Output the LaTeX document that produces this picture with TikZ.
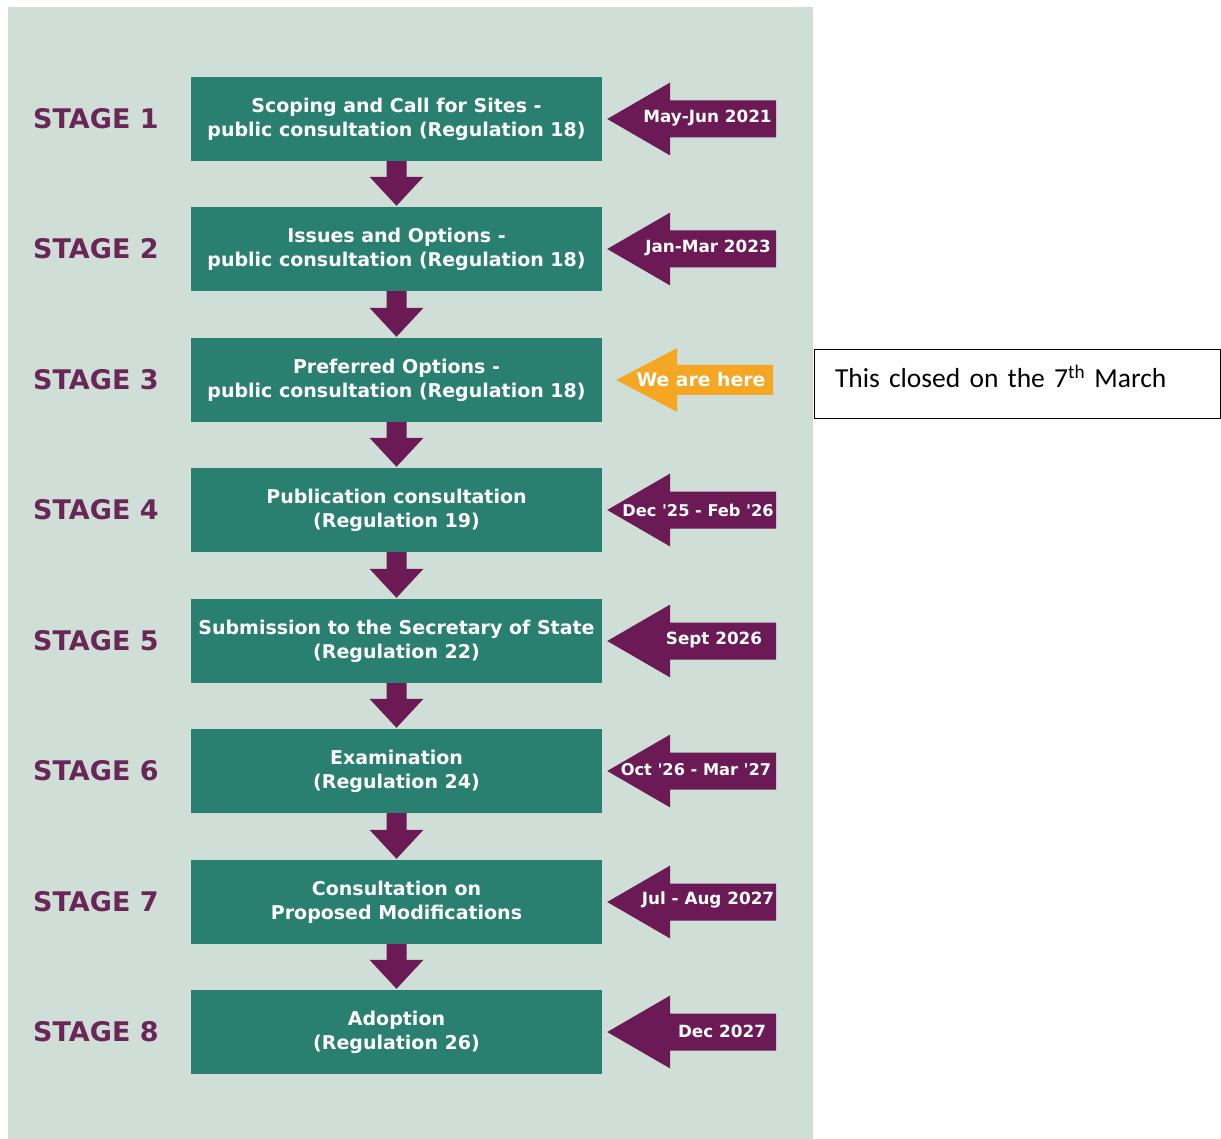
\documentclass[tikz,border=0pt]{standalone}
\usepackage{fontspec}
\setmainfont{DejaVu Sans}
\newfontfamily\notefont{Carlito}
\usetikzlibrary{calc}

\definecolor{panelbg}{HTML}{CFDFD8}
\definecolor{boxgreen}{HTML}{2A8070}
\definecolor{plum}{HTML}{6B1A55}
\definecolor{stagepurple}{HTML}{6A2656}
\definecolor{hereorange}{HTML}{F5A623}

\begin{document}
\begin{tikzpicture}[x=1pt,y=1pt,yscale=-1,xscale=1,
    stagebox/.style={fill=boxgreen, minimum width=411, minimum height=84, inner sep=0, text=white, align=center, font=\bfseries\fontsize{19}{24}\selectfont},
    stagelabel/.style={anchor=west, inner sep=0, text=stagepurple, font=\bfseries\fontsize{27}{32}\selectfont},
    datetext/.style={inner sep=0, text=white, font=\bfseries\fontsize{16.8}{19}\selectfont},
    notebox/.style={draw=black, line width=1.5, fill=white, text width=365, inner xsep=20.5, minimum height=69, text depth=15, align=left, font=\notefont\fontsize{27.5}{32}\selectfont}]
        \useasboundingbox (0,0) rectangle (1221,1139);
        % panel
        \fill[panelbg] (8,7) rectangle (813,1139);

        % Stage boxes
        \node[stagebox] (s1) at (396.5,119) {Scoping and Call for Sites -\\public consultation (Regulation 18)};
        \node[stagebox] (s2) at (396.5,249) {Issues and Options -\\public consultation (Regulation 18)};
        \node[stagebox] (s3) at (396.5,380) {Preferred Options -\\public consultation (Regulation 18)};
        \node[stagebox] (s4) at (396.5,510) {Publication consultation\\(Regulation 19)};
        \node[stagebox] (s5) at (396.5,641) {Submission to the Secretary of State\\(Regulation 22)};
        \node[stagebox] (s6) at (396.5,771) {Examination\\(Regulation 24)};
        \node[stagebox] (s7) at (396.5,902) {Consultation on\\Proposed Modifications};
        \node[stagebox] (s8) at (396.5,1032) {Adoption\\(Regulation 26)};

        % Stage labels
        \node[stagelabel] (l1) at (33,119) {STAGE 1};
        \node[stagelabel] (l2) at (33,249) {STAGE 2};
        \node[stagelabel] (l3) at (33,380) {STAGE 3};
        \node[stagelabel] (l4) at (33,510) {STAGE 4};
        \node[stagelabel] (l5) at (33,641) {STAGE 5};
        \node[stagelabel] (l6) at (33,771) {STAGE 6};
        \node[stagelabel] (l7) at (33,902) {STAGE 7};
        \node[stagelabel] (l8) at (33,1032) {STAGE 8};

        % Down arrows
        \fill[plum] ($(s1.south)+(-10,0)$) -- ($(s1.south)+(10,0)$) -- ($(s2.north)+(10,-30)$) -- ($(s2.north)+(27,-30)$) -- ($(s2.north)+(0,-1)$) -- ($(s2.north)+(-27,-30)$) -- ($(s2.north)+(-10,-30)$) -- cycle;
        \fill[plum] ($(s2.south)+(-10,0)$) -- ($(s2.south)+(10,0)$) -- ($(s3.north)+(10,-30)$) -- ($(s3.north)+(27,-30)$) -- ($(s3.north)+(0,-1)$) -- ($(s3.north)+(-27,-30)$) -- ($(s3.north)+(-10,-30)$) -- cycle;
        \fill[plum] ($(s3.south)+(-10,0)$) -- ($(s3.south)+(10,0)$) -- ($(s4.north)+(10,-30)$) -- ($(s4.north)+(27,-30)$) -- ($(s4.north)+(0,-1)$) -- ($(s4.north)+(-27,-30)$) -- ($(s4.north)+(-10,-30)$) -- cycle;
        \fill[plum] ($(s4.south)+(-10,0)$) -- ($(s4.south)+(10,0)$) -- ($(s5.north)+(10,-30)$) -- ($(s5.north)+(27,-30)$) -- ($(s5.north)+(0,-1)$) -- ($(s5.north)+(-27,-30)$) -- ($(s5.north)+(-10,-30)$) -- cycle;
        \fill[plum] ($(s5.south)+(-10,0)$) -- ($(s5.south)+(10,0)$) -- ($(s6.north)+(10,-30)$) -- ($(s6.north)+(27,-30)$) -- ($(s6.north)+(0,-1)$) -- ($(s6.north)+(-27,-30)$) -- ($(s6.north)+(-10,-30)$) -- cycle;
        \fill[plum] ($(s6.south)+(-10,0)$) -- ($(s6.south)+(10,0)$) -- ($(s7.north)+(10,-30)$) -- ($(s7.north)+(27,-30)$) -- ($(s7.north)+(0,-1)$) -- ($(s7.north)+(-27,-30)$) -- ($(s7.north)+(-10,-30)$) -- cycle;
        \fill[plum] ($(s7.south)+(-10,0)$) -- ($(s7.south)+(10,0)$) -- ($(s8.north)+(10,-30)$) -- ($(s8.north)+(27,-30)$) -- ($(s8.north)+(0,-1)$) -- ($(s8.north)+(-27,-30)$) -- ($(s8.north)+(-10,-30)$) -- cycle;

        % Date arrows
        \fill[plum] ($(s1.east)+(5,0)$) -- ++(63,-36.5) -- ++(0,18) -- ++(106,0) -- ++(0,37) -- ++(-106,0) -- ++(0,18) -- cycle;
        \fill[plum] ($(s2.east)+(5,0)$) -- ++(63,-36.5) -- ++(0,18) -- ++(106,0) -- ++(0,37) -- ++(-106,0) -- ++(0,18) -- cycle;
        \fill[hereorange] ($(s3.east)+(14,0)$) -- ++(61,-32) -- ++(0,17) -- ++(96,0) -- ++(0,30) -- ++(-96,0) -- ++(0,17) -- cycle;
        \fill[plum] ($(s4.east)+(5,0)$) -- ++(63,-36.5) -- ++(0,18) -- ++(106,0) -- ++(0,37) -- ++(-106,0) -- ++(0,18) -- cycle;
        \fill[plum] ($(s5.east)+(5,0)$) -- ++(63,-36.5) -- ++(0,18) -- ++(106,0) -- ++(0,37) -- ++(-106,0) -- ++(0,18) -- cycle;
        \fill[plum] ($(s6.east)+(5,0)$) -- ++(63,-36.5) -- ++(0,18) -- ++(106,0) -- ++(0,37) -- ++(-106,0) -- ++(0,18) -- cycle;
        \fill[plum] ($(s7.east)+(5,0)$) -- ++(63,-36.5) -- ++(0,18) -- ++(106,0) -- ++(0,37) -- ++(-106,0) -- ++(0,18) -- cycle;
        \fill[plum] ($(s8.east)+(5,0)$) -- ++(63,-36.5) -- ++(0,18) -- ++(106,0) -- ++(0,37) -- ++(-106,0) -- ++(0,18) -- cycle;

        % Date texts
        \node[datetext] (d1) at (707.5,118) {May-Jun 2021};
        \node[datetext] (d2) at (708,248) {Jan-Mar 2023};
        \node[datetext, font=\bfseries\fontsize{18.8}{21}\selectfont] (d3) at (701,379) {We are here};
        \node[datetext, font=\bfseries\fontsize{16.2}{19}\selectfont] (d4) at (698,510) {Dec \textquotesingle25 - Feb \textquotesingle26};
        \node[datetext] (d5) at (714,640) {Sept 2026};
        \node[datetext, font=\bfseries\fontsize{16.2}{19}\selectfont] (d6) at (696,770) {Oct \textquotesingle26 - Mar \textquotesingle27};
        \node[datetext] (d7) at (708,900) {Jul - Aug 2027};
        \node[datetext] (d8) at (722,1031) {Dec 2027};

        % Note
        \node[notebox] (note) at (1017.5,384) {This closed on the 7\textsuperscript{th} March};
\end{tikzpicture}
\end{document}
